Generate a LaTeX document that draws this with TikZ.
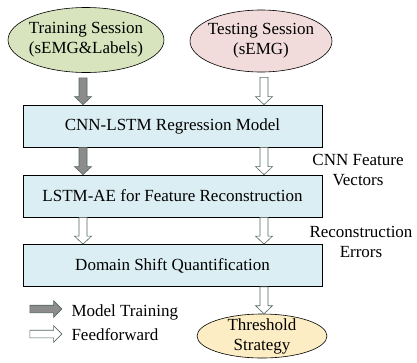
\documentclass[tikz,border=0pt]{standalone}
\usepackage{fontspec}
\setmainfont{Liberation Serif}
\usepackage{tikz}
\usetikzlibrary{shapes,arrows,calc}
\definecolor{traingreen}{RGB}{215,228,189}
\definecolor{testpink}{RGB}{242,220,219}
\definecolor{blockblue}{RGB}{219,238,243}
\definecolor{threshyellow}{RGB}{253,237,196}
\definecolor{arrowedge}{RGB}{82,104,94}
\definecolor{arrowgray}{RGB}{140,140,140}
\tikzset{
	session/.style  = {draw, semithick, ellipse, fill=#1, inner sep=-10pt, align=center},
	block/.style    = {draw, thick, rectangle, fill=blockblue,
		minimum width = 299pt, minimum height = 42pt},
	trainarrow/.style = {draw=arrowedge, fill=arrowgray, line width=0.6pt},
	ffwdarrow/.style  = {draw=arrowedge, fill=white, line width=0.6pt},
	legarrow/.style = {single arrow, minimum height = 32pt, inner xsep=0pt,
		inner ysep=3.5pt, single arrow head extend=4.5pt} % Legend
}
% fat arrow pointing down, from #2 to #3
\newcommand{\blockarrow}[3]{%
	\draw[#1] let \p1 = (#2), \p2 = (#3) in
	(\x1-4pt,\y1) -- (\x1-4pt,\y2+8pt) -- (\x1-8.5pt,\y2+8pt) -- (\x1,\y2)
	-- (\x1+8.5pt,\y2+8pt) -- (\x1+4pt,\y2+8pt) -- (\x1+4pt,\y1) -- cycle;}

\begin{document}
\begin{tikzpicture}[x=1pt, y=-1pt, font=\fontsize{17pt}{20pt}\selectfont]
	\useasboundingbox (0,0) rectangle (417,362);
	\draw
	node at (86,40)[session=traingreen, minimum width=156pt, minimum height=65pt] (train) {Training Session\\(sEMG\&Labels)}
	node at (261,41)[session=testpink, minimum width=142pt, minimum height=62pt] (test) {Testing Session\\(sEMG)}
	node at (172.5,126)[block] (cnn) {CNN-LSTM Regression Model}
	node at (172.5,196)[block] (ae) {LSTM-AE for Feature Reconstruction}
	node at (172.5,265.5)[block] (dsq) {Domain Shift Quantification}
	node at (262,336)[session=threshyellow, minimum width=130pt, minimum height=44pt] (thresh) {Threshold\\Strategy};
	
	\node[align=center] at (358,170) (featlabel) {CNN Feature\\Vectors};
	\node[align=center] at (361,242) (errlabel) {Reconstruction\\Errors};
	
	\coordinate (lcol) at (83,0);
	\coordinate (rcol) at (264,0);
	
	\blockarrow{trainarrow}{$(train.south -| lcol)+(0,5)$}{cnn.north -| lcol}
	\blockarrow{ffwdarrow}{$(test.south -| rcol)+(0,5)$}{cnn.north -| rcol}
	\blockarrow{trainarrow}{cnn.south -| lcol}{ae.north -| lcol}
	\blockarrow{ffwdarrow}{cnn.south -| rcol}{ae.north -| rcol}
	\blockarrow{ffwdarrow}{ae.south -| lcol}{dsq.north -| lcol}
	\blockarrow{ffwdarrow}{ae.south -| rcol}{dsq.north -| rcol}
	\blockarrow{ffwdarrow}{dsq.south -| rcol}{thresh.north -| rcol}
	
	\node at (44,309)[legarrow, trainarrow] (legtrain) {};
	\node at (44,334)[legarrow, ffwdarrow] (legffwd) {};
	\node[anchor=base west] at (68,316) {Model Training};
	\node[anchor=base west] at (68,340) {Feedforward};
\end{tikzpicture}
\end{document}
